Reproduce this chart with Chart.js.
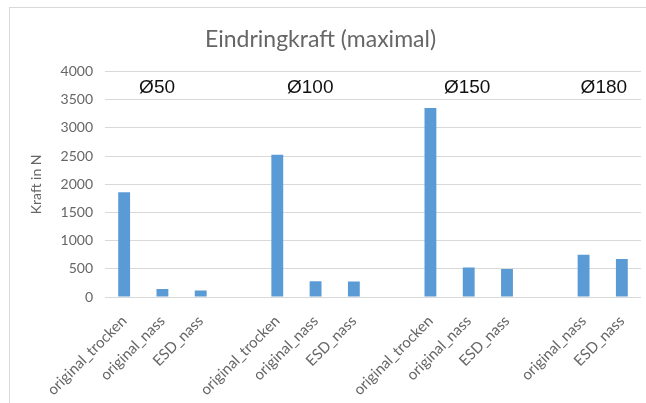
<!DOCTYPE html>
<html>
<head>
<meta charset="utf-8">
<script src="https://cdn.jsdelivr.net/npm/chart.js@4"></script>
<style>
  html, body { margin: 0; padding: 0; background: #fff; overflow: hidden; }
  #frame { position: absolute; left: 9px; top: 7px; width: 700px; height: 500px; border: 1px solid #d9d9d9; }
  #wrap { position: absolute; left: 0; top: 0; width: 668px; height: 403px; }
</style>
</head>
<body>
<div id="frame"></div>
<div id="wrap"><canvas id="myChart"></canvas></div>
<script>
const categories = [
  "original_trocken", "original_nass", "ESD_nass", "",
  "original_trocken", "original_nass", "ESD_nass", "",
  "original_trocken", "original_nass", "ESD_nass", "",
  "original_nass", "ESD_nass",
];
const kraft = [1860, 140, 115, null, 2525, 280, 275, null, 3355, 525, 495, null, 750, 673];
const yTicks = [0, 500, 1000, 1500, 2000, 2500, 3000, 3500, 4000];
const groupLabels = ["Ø50", "Ø100", "Ø150", "Ø180"];
const groupLabelAt = [0.86, 4.86, 8.96, 12.53];
const groupLabelValue = 3720;

const grayText = "#666666";
const font = "Lato, 'Open Sans', sans-serif";

// Ø-Beschriftungen über den Gruppen
const groupText = {
  id: "groupText",
  afterDatasetsDraw(chart) {
    const ctx = chart.ctx;
    const x = chart.scales.x;
    const y = chart.scales.y;
    ctx.save();
    ctx.fillStyle = "#111";
    ctx.font = "19px 'Liberation Sans', Arial, sans-serif";
    ctx.textAlign = "center";
    ctx.textBaseline = "middle";
    groupLabels.forEach(function (t, i) {
      ctx.fillText(t, x.getPixelForValue(groupLabelAt[i]), y.getPixelForValue(groupLabelValue));
    });
    ctx.restore();
  },
};

const chart = new Chart(document.getElementById("myChart"), {
  type: "bar",
  data: {
    labels: categories,
    datasets: [
      {
        label: "Kraft",
        data: kraft,
        backgroundColor: "#5b9bd5",
        categoryPercentage: 1,
        barPercentage: 0.31,
      },
    ],
  },
  options: {
    responsive: true,
    maintainAspectRatio: false,
    animation: false,
    layout: { padding: { left: 0, right: 27, top: 0, bottom: 0 } },
    plugins: {
      legend: { display: false },
      tooltip: { enabled: false },
      title: {
        display: true,
        text: "Eindringkraft (maximal)",
        color: grayText,
        font: { family: font, size: 23, weight: "normal" },
        padding: { top: 26, bottom: 18 },
      },
    },
    scales: {
      x: {
        grid: { display: false, drawTicks: false },
        border: { display: false },
        ticks: {
          color: grayText,
          font: { family: font, size: 15 },
          maxRotation: 45,
          minRotation: 45,
          autoSkip: false,
          padding: 15,
        },
        afterFit(scale) { scale.height = 106; },
      },
      y: {
        min: 0,
        max: 4000,
        afterBuildTicks(scale) { scale.ticks = yTicks.map(function (v) { return { value: v }; }); },
        grid: { color: "#d9d9d9", drawTicks: false, lineWidth: 1 },
        border: { display: false },
        ticks: {
          color: grayText,
          font: { family: font, size: 14 },
          padding: 12,
          callback: function (v) { return String(v); },
        },
        title: {
          display: true,
          text: "Kraft in N",
          color: grayText,
          font: { family: font, size: 14 },
          padding: { top: 28, bottom: 0 },
        },
        afterFit(scale) { scale.width = 105; },
      },
    },
  },
  plugins: [groupText],
});
</script>
</body>
</html>
